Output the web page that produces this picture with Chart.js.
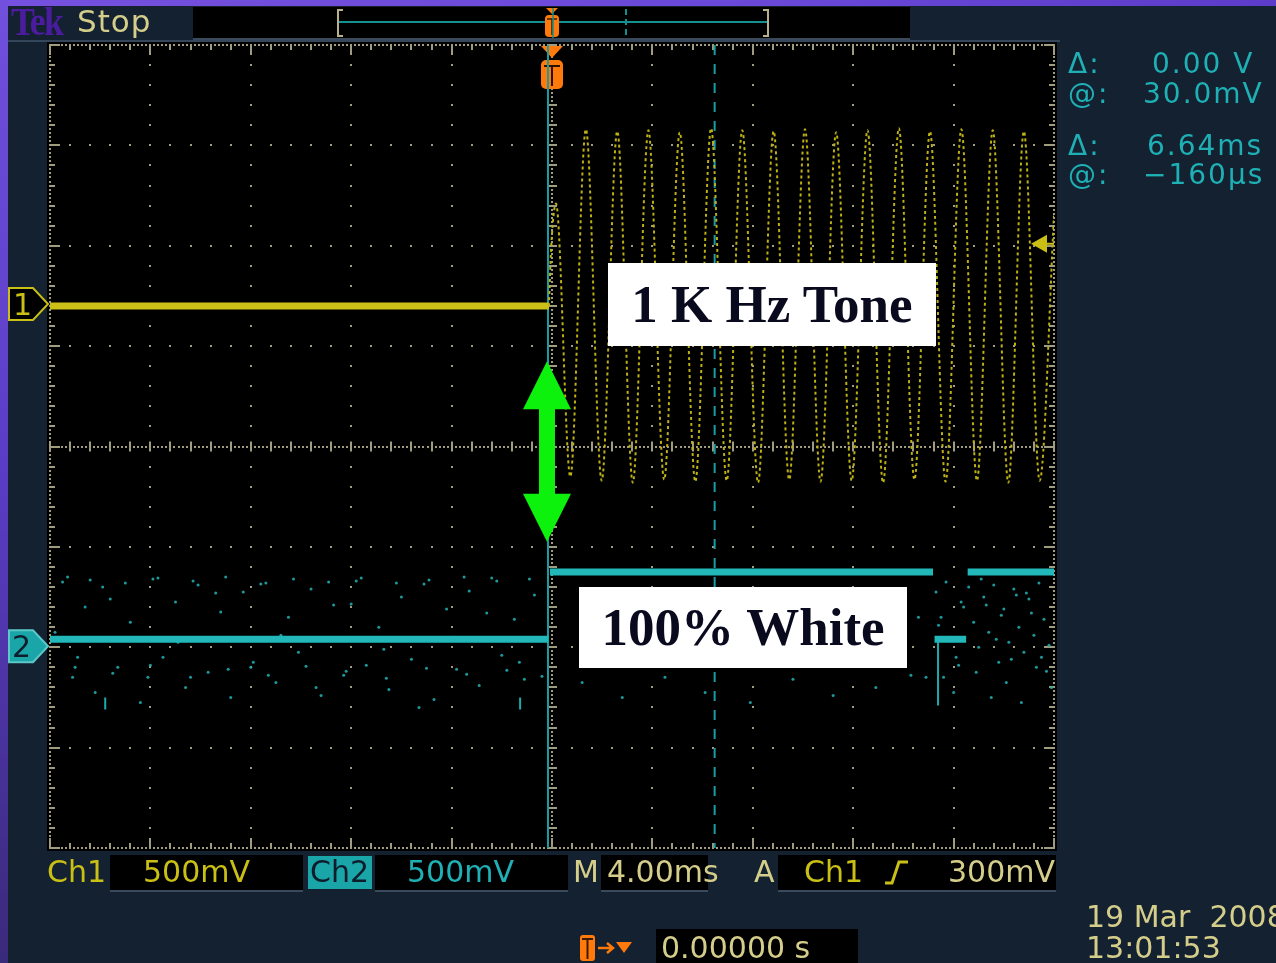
<!DOCTYPE html>
<html>
<head>
<meta charset="utf-8">
<script src="https://cdn.jsdelivr.net/npm/chart.js@4.4.0/dist/chart.umd.min.js"></script>
<style>
  body { margin:0; width:1276px; height:963px; overflow:hidden; background:#132131; position:relative; font-family:"DejaVu Sans", sans-serif; }
  .abs { position:absolute; white-space:pre; }
  .f30 { font-size:30px; line-height:30px; }
  .f28 { font-size:28px; line-height:28px; letter-spacing:2px; }
  .box { position:absolute; background:#000; }
  .beige { color:#d5ce8a; }
  .yel { color:#c9bf15; }
  .cyan { color:#1fb0b5; }
  .label { position:absolute; background:#fff; color:#0a0a1e; font-family:"Liberation Serif", serif; font-weight:bold; font-size:53px; line-height:83px; text-align:center; z-index:3; white-space:pre; }
  canvas { position:absolute; left:0; top:0; z-index:1; }
  .top { z-index:4; }
</style>
</head>
<body>
<!-- frame -->
<div class="abs" style="left:0;top:0;width:1276px;height:6px;background:linear-gradient(90deg,#7650de,#6a48d8 60%,#5c3cc8);"></div>
<div class="abs" style="left:0;top:0;width:8px;height:963px;background:linear-gradient(180deg,#7050dc,#5a3cc4 50%,#3a2a7a);"></div>
<div class="abs" style="left:8px;top:40px;width:1052px;height:2px;background:#34465a;"></div>

<!-- top bar -->
<div class="abs top" style="left:11px;top:2px;font-family:'Liberation Serif',serif;font-weight:bold;font-size:39px;line-height:39px;color:#4b1d9e;letter-spacing:-2px;transform:scaleX(0.92);transform-origin:left;">Tek</div>
<div class="abs top beige" style="left:77px;top:6px;font-size:31px;line-height:31px;letter-spacing:1px;">Stop</div>
<div class="box" style="left:193px;top:7px;width:717px;height:31px;border-bottom:2px solid #3a4a5c;"></div>
<svg class="abs top" style="left:0;top:0" width="1276" height="45">
  <path d="M343 10 H338 V36 H343" stroke="#b8b08a" stroke-width="2" fill="none"/>
  <path d="M763 10 H768 V36 H763" stroke="#b8b08a" stroke-width="2" fill="none"/>
  <line x1="339" y1="22" x2="767" y2="22" stroke="#13908f" stroke-width="2"/>
  <line x1="626" y1="9" x2="626" y2="36" stroke="#13908f" stroke-width="2" stroke-dasharray="6,4"/>
  <path d="M546 8 L558 8 L552 14 Z" fill="#ff7a0a"/>
  <rect x="545" y="15" width="14" height="22" rx="4" fill="#ff7a0a"/>
  <path d="M547 19 H557 M552 19 V35" stroke="#3a1a00" stroke-width="1.5"/>
  <line x1="553" y1="8" x2="553" y2="38" stroke="#13908f" stroke-width="1.5"/>
</svg>

<!-- readouts -->
<div class="abs top f28 cyan" style="left:1068px;top:50px;">Δ:</div>
<div class="abs top f28 cyan" style="left:1068px;top:80px;">@:</div>
<div class="abs top f28 cyan" style="left:1068px;top:132px;">Δ:</div>
<div class="abs top f28 cyan" style="left:1068px;top:161px;">@:</div>
<div class="abs top f28 cyan" style="left:1152px;top:50px;">0.00 V</div>
<div class="abs top f28 cyan" style="left:1143px;top:80px;">30.0mV</div>
<div class="abs top f28 cyan" style="left:1147px;top:132px;">6.64ms</div>
<div class="abs top f28 cyan" style="left:1143px;top:161px;">−160µs</div>

<!-- channel marker digits -->
<div class="abs top yel" style="left:13px;top:290px;font-size:30px;line-height:30px;">1</div>
<div class="abs top" style="left:12px;top:632px;font-size:30px;line-height:30px;color:#0e1c2c;">2</div>

<!-- status bar -->
<div class="box" style="left:110px;top:855px;width:193px;height:35px;border-bottom:2px solid #3a4a5c;"></div>
<div class="abs" style="left:308px;top:856px;width:64px;height:33px;background:#1aa6a8;"></div>
<div class="box" style="left:375px;top:855px;width:193px;height:35px;border-bottom:2px solid #3a4a5c;"></div>
<div class="box" style="left:601px;top:855px;width:107px;height:35px;border-bottom:2px solid #3a4a5c;"></div>
<div class="box" style="left:778px;top:855px;width:278px;height:35px;border-bottom:2px solid #3a4a5c;"></div>
<div class="box" style="left:656px;top:929px;width:202px;height:40px;"></div>
<div class="abs top f30 yel" style="left:47px;top:857px;">Ch1</div>
<div class="abs top f30 yel" style="left:143px;top:857px;">500mV</div>
<div class="abs top f30" style="left:310px;top:857px;color:#0e1c2c;">Ch2</div>
<div class="abs top f30 cyan" style="left:407px;top:857px;">500mV</div>
<div class="abs top f30 beige" style="left:573px;top:857px;">M</div>
<div class="abs top f30 beige" style="left:607px;top:857px;">4.00ms</div>
<div class="abs top f30 beige" style="left:754px;top:857px;">A</div>
<div class="abs top f30 yel" style="left:804px;top:857px;">Ch1</div>
<div class="abs top f30 beige" style="left:948px;top:857px;">300mV</div>
<svg class="abs top" style="left:880px;top:855px" width="36" height="36">
  <path d="M5 28 H12 L19 7 H28" stroke="#c9bf15" stroke-width="3" fill="none"/>
</svg>
<div class="abs top f30 beige" style="left:661px;top:933px;">0.00000 s</div>
<div class="abs top f30 beige" style="left:1086px;top:902px;">19 Mar  2008</div>
<div class="abs top f30 beige" style="left:1086px;top:933px;">13:01:53</div>
<svg class="abs top" style="left:576px;top:930px" width="70" height="33">
  <rect x="4" y="5" width="15" height="26" rx="3" fill="#ff7a0a"/>
  <path d="M6 9 H17 M11.5 9 V29" stroke="#3a1a00" stroke-width="2"/>
  <path d="M22 18 H36 M31 13 L37 18 L31 23" stroke="#ff7a0a" stroke-width="2.5" fill="none"/>
  <path d="M40 12 H56 L48 23 Z" fill="#ff7a0a"/>
</svg>

<!-- annotations -->
<div class="label" style="left:608px;top:263px;width:328px;height:83px;">1 K Hz Tone</div>
<div class="label" style="left:579px;top:587px;width:328px;height:81px;line-height:81px;">100% White</div>

<canvas id="scope" width="1276" height="963"></canvas>

<script>
// time axis in ms (4 ms/div, trigger at 0), vertical axis in divisions
const xRange = [-20, 20];
const yRange = [-4, 4];
const cursorA = -0.16;
const cursorB = 6.48;
const trigLevel = 2.02;
const ch1Ground = 1.42;
const ch2Ground = -1.99;

// Ch1 before trigger: flat noisy line
const ch1BaseT = [-20, -0.12];
const ch1BaseV = [1.40, 1.40];

// Ch1 tone after trigger: peaks and troughs
const toneT = [-0.12, -0.04, 0.16, 0.73, 1.35, 1.98, 2.60, 3.22, 3.84, 4.47, 5.09, 5.71, 6.34, 6.96,
  7.58, 8.21, 8.83, 9.45, 10.08, 10.70, 11.32, 11.94, 12.57, 13.19, 13.82, 14.44, 15.06, 15.68,
  16.31, 16.93, 17.56, 18.18, 18.80, 19.43, 20.0];
const toneV = [1.40, 1.95, 2.42, -0.30, 3.16, -0.34, 3.14, -0.36, 3.15, -0.33, 3.13, -0.35, 3.17, -0.34,
  3.15, -0.36, 3.14, -0.33, 3.16, -0.35, 3.13, -0.34, 3.15, -0.36, 3.17, -0.33, 3.14, -0.35,
  3.16, -0.34, 3.15, -0.36, 3.14, -0.34, 2.30];

// Ch2 video level: black before trigger, white after, short dip near the end
const ch2T = [-20, -0.14, -0.1, -0.08, 15.18, 15.2, 15.24, 16.5, 16.52, 16.56, 20];
const ch2V = [-1.92, -1.92, null, -1.25, -1.25, null, -1.92, -1.92, null, -1.25, -1.25];

// small spikes below ch2
const spikeT = [-17.8, -17.8, -17.7, -1.27, -1.27, -1.2, 15.38, 15.38];
const spikeV = [-2.50, -2.62, null, -2.50, -2.62, null, -1.95, -2.58];

// scattered ch2 samples
const noiseT = [-19.5, -19.1, -18.6, -18.2, -17.9, -17.3, -16.8, -16.4, -15.9, -15.5, -15.0, -14.6, -14.1,
  -13.7, -13.2, -12.8, -12.3, -11.9, -11.4, -11.0, -10.5, -10.1, -9.6, -9.2, -8.7, -8.3, -7.8, -7.4,
  -6.9, -6.5, -6.0, -5.6, -5.1, -4.7, -4.2, -3.8, -3.3, -2.9, -2.4, -2.0, -1.5, -1.1, -0.7,
  -19.8, -18.9, -17.6, -16.1, -14.9, -13.4, -12.0, -10.8, -9.4, -8.0, -6.7, -5.3, -3.9, -2.6, -1.3,
  -19.3, -18.4, -17.0, -15.7, -14.3, -13.0, -11.6, -10.3, -8.9, -7.6, -6.2, -4.9, -3.5, -2.2, -0.9,
  -19.0, -17.5, -16.0, -14.4, -12.9, -11.3, -9.8, -8.2, -6.6, -5.0, -3.4, -1.8, -0.4,
  15.3, 15.5, 15.7, 15.9, 16.1, 16.3, 16.6, 16.8, 17.0, 17.2, 17.4, 17.6, 17.8, 18.0, 18.2, 18.4,
  18.6, 18.8, 19.0, 19.2, 19.4, 19.6, 19.8, 15.6, 16.0, 16.9, 17.5, 18.1, 18.7, 19.3, 19.9, 16.4,
  17.1, 17.9, 18.9, 19.5, 14.6, 14.9, 15.4, 16.2, 17.3, 18.3, 19.1, 19.7, 17.7, 18.5,
  1.2, 2.8, 4.5, 6.1, 7.9, 9.6, 11.2, 12.9, 14.3];
const noiseV = [-1.35, -2.30, -1.60, -2.45, -1.40, -2.20, -1.75, -2.55, -1.32, -2.10, -1.55, -2.40, -1.38,
  -2.25, -1.65, -2.50, -1.45, -2.15, -1.36, -2.35, -1.70, -2.05, -1.42, -2.48, -1.58, -2.28, -1.34, -2.18,
  -1.80, -2.42, -1.50, -2.12, -1.37, -2.52, -1.62, -2.22, -1.44, -2.38, -1.31, -2.08, -1.72, -2.32, -1.48,
  -1.85, -2.10, -1.52, -2.30, -1.95, -1.46, -2.20, -1.88, -2.40, -1.57, -2.02, -2.60, -1.90, -1.66, -2.15,
  -1.30, -1.33, -1.36, -1.31, -1.34, -1.30, -1.37, -1.32, -1.35, -1.31, -1.36, -1.33, -1.30, -1.34, -1.32,
  -2.20, -2.26, -2.18, -2.30, -2.22, -2.28, -2.19, -2.24, -2.31, -2.21, -2.27, -2.23, -2.29,
  -1.45, -1.70, -1.35, -1.90, -2.10, -1.55, -1.40, -1.75, -2.00, -1.50, -1.85, -1.38, -2.15, -1.62, -1.95, -1.42,
  -1.80, -2.05, -1.52, -1.88, -1.36, -1.72, -1.98, -2.30, -2.45, -2.25, -2.50, -2.35, -2.55, -2.20, -2.40, -1.60,
  -1.32, -1.68, -1.46, -2.10, -1.70, -2.30, -1.78, -2.18, -1.58, -2.12, -1.66, -2.24, -1.92, -1.48,
  -2.35, -2.50, -2.30, -2.45, -2.55, -2.32, -2.48, -2.40, -2.28];

const pts = (ts, vs) => ts.map((t, i) => ({ x: t, y: vs[i] }));

const gridColor = '#a09c80';

const graticule = {
  id: 'graticule',
  beforeDatasetsDraw(chart) {
    const { ctx, chartArea: a, scales: { x, y } } = chart;
    ctx.save();
    ctx.fillStyle = '#000';
    ctx.fillRect(a.left - 3, a.top - 3, a.right - a.left + 6, a.bottom - a.top + 6);
    ctx.fillStyle = gridColor;
    const dot = (px, py) => ctx.fillRect(Math.round(px) - 1, Math.round(py) - 1, 2, 2);
    // vertical lines
    for (let d = xRange[0]; d <= xRange[1]; d += 4) {
      const px = x.getPixelForValue(d);
      const dense = d === 0 || d === xRange[0] || d === xRange[1];
      const step = dense ? 0.04 : 0.2;
      for (let v = yRange[0]; v <= yRange[1] + 0.001; v += step) dot(px, y.getPixelForValue(v));
    }
    // horizontal lines
    for (let v = yRange[0]; v <= yRange[1]; v++) {
      const py = y.getPixelForValue(v);
      const dense = v === 0 || Math.abs(v) === 4;
      const step = dense ? 0.16 : 0.8;
      for (let t = xRange[0]; t <= xRange[1] + 0.001; t += step) dot(x.getPixelForValue(t), py);
    }
    // ticks on center lines and edges
    const cx = x.getPixelForValue(0), cy = y.getPixelForValue(0);
    for (let k = 0; k <= 50; k++) {
      const t = xRange[0] + k * 0.8;
      const px = Math.round(x.getPixelForValue(t));
      const major = k % 5 === 0;
      ctx.fillRect(px - 1, cy - 5, 2, 10);
      ctx.fillRect(px - 1, a.top, 2, major ? 10 : 5);
      ctx.fillRect(px - 1, a.bottom - (major ? 10 : 5), 2, major ? 10 : 5);
    }
    for (let k = 0; k <= 40; k++) {
      const v = yRange[0] + k * 0.2;
      const py = Math.round(y.getPixelForValue(v));
      const major = k % 5 === 0;
      ctx.fillRect(cx - 5, py - 1, 10, 2);
      ctx.fillRect(a.left, py - 1, major ? 10 : 5, 2);
      ctx.fillRect(a.right - (major ? 10 : 5), py - 1, major ? 10 : 5, 2);
    }
    // time cursors
    ctx.strokeStyle = '#1a9ca4';
    ctx.lineWidth = 2;
    ctx.beginPath();
    ctx.moveTo(x.getPixelForValue(cursorA), a.top);
    ctx.lineTo(x.getPixelForValue(cursorA), a.bottom);
    ctx.stroke();
    ctx.setLineDash([10, 9]);
    ctx.beginPath();
    ctx.moveTo(x.getPixelForValue(cursorB), a.top);
    ctx.lineTo(x.getPixelForValue(cursorB), a.bottom);
    ctx.stroke();
    ctx.restore();
  },
  afterDatasetsDraw(chart) {
    const { ctx, chartArea: a, scales: { x, y } } = chart;
    ctx.save();
    // trigger position marker
    const tx = x.getPixelForValue(0);
    ctx.fillStyle = '#ff7a0a';
    ctx.beginPath();
    ctx.moveTo(tx - 11, a.top + 1); ctx.lineTo(tx + 11, a.top + 1); ctx.lineTo(tx, a.top + 13);
    ctx.closePath(); ctx.fill();
    ctx.beginPath();
    ctx.roundRect(tx - 11, a.top + 15, 22, 29, 5);
    ctx.fill();
    ctx.strokeStyle = '#2a1200'; ctx.lineWidth = 2;
    ctx.beginPath();
    ctx.moveTo(tx - 8, a.top + 21); ctx.lineTo(tx + 8, a.top + 21);
    ctx.moveTo(tx, a.top + 21); ctx.lineTo(tx, a.top + 41);
    ctx.stroke();
    ctx.strokeStyle = '#1a9ca4';
    ctx.beginPath();
    ctx.moveTo(x.getPixelForValue(cursorA), a.top); ctx.lineTo(x.getPixelForValue(cursorA), a.top + 45);
    ctx.stroke();
    // trigger level arrow
    const ly = y.getPixelForValue(trigLevel);
    ctx.fillStyle = '#c9bf15';
    ctx.beginPath();
    ctx.moveTo(a.right - 23, ly); ctx.lineTo(a.right - 7, ly - 9); ctx.lineTo(a.right - 7, ly + 9);
    ctx.closePath(); ctx.fill();
    ctx.fillRect(a.right - 8, ly - 1, 8, 2);
    // channel ground markers
    const marker = (yc, fill, stroke) => {
      ctx.beginPath();
      ctx.moveTo(9, yc - 16); ctx.lineTo(33, yc - 16); ctx.lineTo(a.left - 2, yc);
      ctx.lineTo(33, yc + 16); ctx.lineTo(9, yc + 16); ctx.closePath();
      ctx.fillStyle = fill; ctx.fill();
      ctx.strokeStyle = stroke; ctx.lineWidth = 2; ctx.stroke();
    };
    marker(y.getPixelForValue(ch1Ground), '#000', '#c9bf15');
    marker(y.getPixelForValue(ch2Ground), '#1aa6a8', '#5cc8c8');
    // green double arrow
    const ax = x.getPixelForValue(-0.2);
    const top = y.getPixelForValue(0.85), bot = y.getPixelForValue(-0.95);
    ctx.fillStyle = '#0cf20c';
    ctx.beginPath();
    ctx.moveTo(ax, top);
    ctx.lineTo(ax + 24, top + 48); ctx.lineTo(ax + 8, top + 48);
    ctx.lineTo(ax + 8, bot - 48); ctx.lineTo(ax + 24, bot - 48);
    ctx.lineTo(ax, bot);
    ctx.lineTo(ax - 24, bot - 48); ctx.lineTo(ax - 8, bot - 48);
    ctx.lineTo(ax - 8, top + 48); ctx.lineTo(ax - 24, top + 48);
    ctx.closePath(); ctx.fill();
    ctx.restore();
  }
};

new Chart(document.getElementById('scope'), {
  type: 'line',
  data: {
    datasets: [
      { data: pts(toneT, toneV), borderColor: '#bcb014', borderWidth: 2, borderDash: [3, 3],
        cubicInterpolationMode: 'monotone' },
      { data: pts(ch1BaseT, ch1BaseV), borderColor: '#ccc018', borderWidth: 7 },
      { data: pts(ch2T, ch2V), borderColor: '#22b8ba', borderWidth: 7, spanGaps: false },
      { data: pts(spikeT, spikeV), borderColor: '#1eaaad', borderWidth: 2, spanGaps: false },
      { data: pts(noiseT, noiseV), showLine: false, pointRadius: 1.5,
        pointBackgroundColor: 'rgba(32,170,172,0.9)', pointBorderWidth: 0 }
    ]
  },
  options: {
    responsive: false,
    animation: false,
    devicePixelRatio: 1,
    layout: { padding: { left: 50, top: 45, right: 222, bottom: 115 } },
    elements: { point: { radius: 0 }, line: { tension: 0 } },
    plugins: { legend: { display: false }, tooltip: { enabled: false } },
    scales: {
      x: { type: 'linear', min: xRange[0], max: xRange[1], display: false },
      y: { type: 'linear', min: yRange[0], max: yRange[1], display: false }
    }
  },
  plugins: [graticule]
});
</script>
</body>
</html>
